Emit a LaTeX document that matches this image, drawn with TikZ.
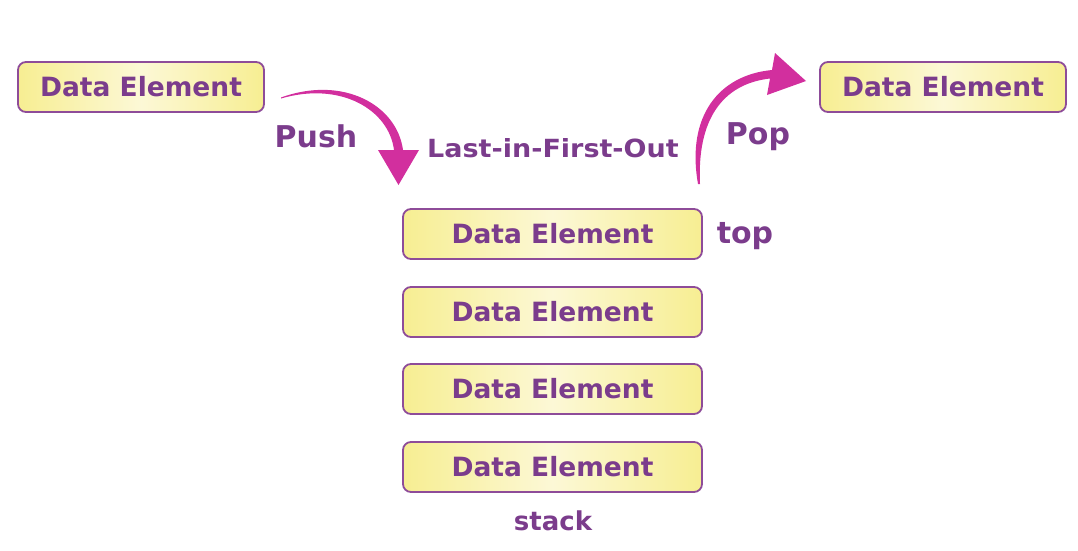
\documentclass[tikz,border=0pt]{standalone}
\usepackage{fontspec}
\setmainfont{DejaVu Sans}
\usepackage{tikz}
\usetikzlibrary{shapes,arrows}

\definecolor{elemfill}{HTML}{F7EE92}
\definecolor{elemlight}{HTML}{FCF8D6}
\definecolor{elemline}{HTML}{8E4C99}
\definecolor{txtpurple}{HTML}{7B3C8C}
\definecolor{arrowpink}{HTML}{D22F9E}

\tikzset{
	element/.style={draw=elemline,line width=1.8pt,rounded corners=8pt,
		shading=axis,left color=elemfill,right color=elemfill,middle color=elemlight,
		minimum width=246pt,minimum height=50pt,inner sep=0pt,
		text=txtpurple,font=\bfseries\fontsize{26.5}{30}\selectfont},
	stackelem/.style={element,minimum width=299pt},
	tag/.style={text=txtpurple,font=\bfseries\fontsize{30}{34}\selectfont},
	bend arrow/.style={fill=arrowpink,draw=none}
}

\begin{document}
\begin{tikzpicture}[x=1pt,y=-1pt]
		\useasboundingbox (0,0) rectangle (1078,550);

		\node[element] (in) at (141,87) {Data Element};
		\node[element] (out) at (943,87) {Data Element};

		\node[stackelem] (E1) at (552.5,234) {Data Element};
		\node[stackelem] (E2) at (552.5,312) {Data Element};
		\node[stackelem] (E3) at (552.5,389) {Data Element};
		\node[stackelem] (E4) at (552.5,467) {Data Element};

		\node[tag] (push) at (316,136) {Push};
		\node[tag] (pop) at (758,137) {Pop};
		\node[tag] (top) at (745,236) {top};
		\node[tag,font=\bfseries\fontsize{26}{30}\selectfont] (stack) at (553,521) {stack};
		\node[text=txtpurple,font=\bfseries\fontsize{25}{30}\selectfont,xscale=1.08] (lifo) at (553,148) {Last-in-First-Out};

		% push arrow
		\path[bend arrow] (281,97.5) .. controls (343,75) and (397,105) .. (403,150)
			-- (419,150) -- (398.5,185) -- (378,150) -- (394,150)
			.. controls (389,110) and (341,81) .. (281,98.5) -- cycle;
		% pop arrow
		\path[bend arrow] (698,184) .. controls (686,116) and (719,75) .. (772,70)
			-- (775,53) -- (806,81) -- (767,95) -- (770,78.5)
			.. controls (722,84) and (697,120) .. (700,184) -- cycle;
	\end{tikzpicture}
\end{document}
